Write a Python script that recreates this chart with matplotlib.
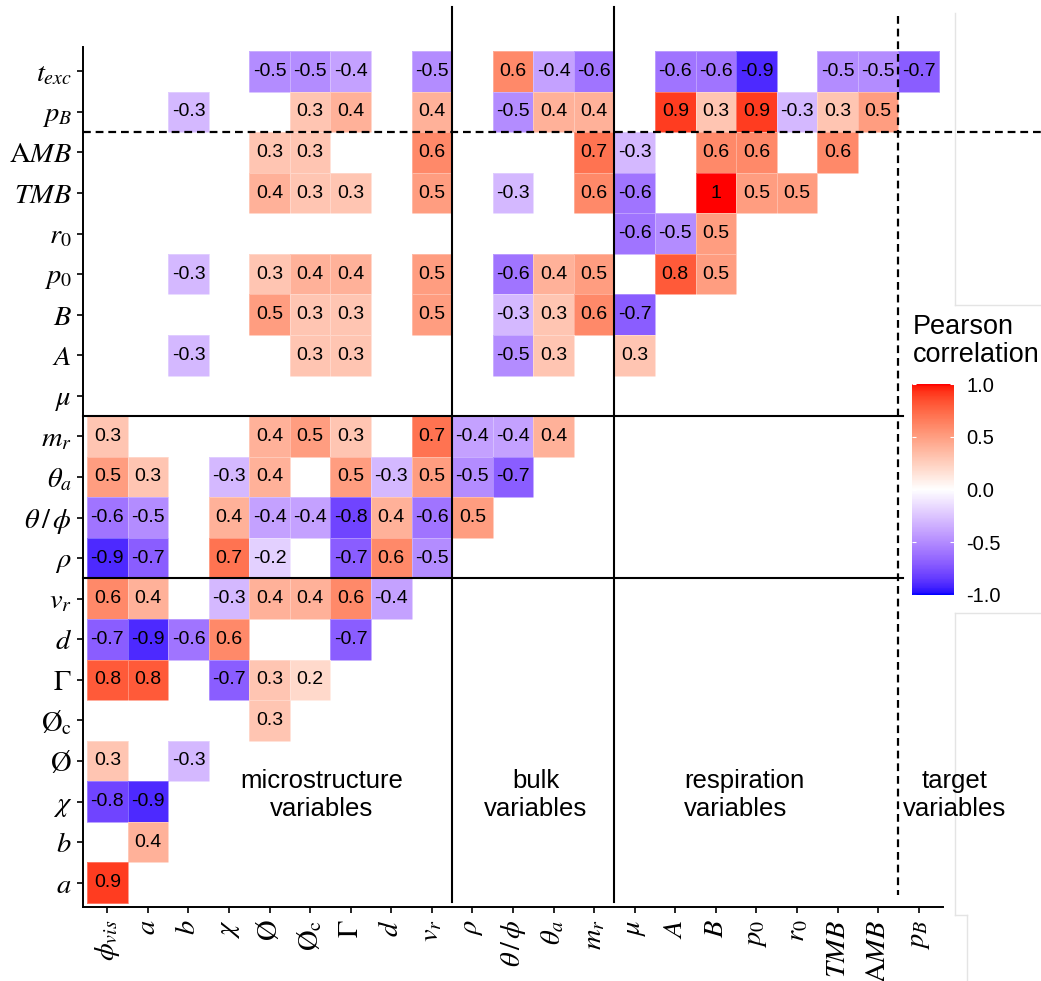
import numpy as np
import matplotlib
matplotlib.use("Agg")
import matplotlib.pyplot as plt
from matplotlib.colors import ListedColormap, Normalize
from matplotlib.lines import Line2D
from matplotlib import transforms as mtrans
import matplotlib.colorbar as mcolorbar

plt.rcParams['mathtext.fontset'] = 'stix'
plt.rcParams['axes.unicode_minus'] = False
plt.rcParams['font.family'] = ['Liberation Sans', 'DejaVu Sans']

N = None
# ---------------- data ----------------
col_labels = [r'$\phi_{vis}$', r'$a$', r'$b$', r'$\chi$', r'$\mathrm{Ø}$', r'$\mathrm{Ø}_\mathrm{c}$',
              r'$\Gamma$', r'$d$', r'$v_r$', r'$\rho$', r'$\theta\,/\,\phi$', r'$\theta_a$', r'$m_r$',
              r'$\mu$', r'$A$', r'$B$', r'$p_0$', r'$r_0$', r'$TMB$', r'$\mathrm{A}MB$', r'$p_B$']
row_labels = [r'$t_{exc}$', r'$p_B$', r'$\mathrm{A}MB$', r'$TMB$', r'$r_0$', r'$p_0$', r'$B$', r'$A$',
              r'$\mu$', r'$m_r$', r'$\theta_a$', r'$\theta\,/\,\phi$', r'$\rho$', r'$v_r$', r'$d$',
              r'$\Gamma$', r'$\mathrm{Ø}_\mathrm{c}$', r'$\mathrm{Ø}$', r'$\chi$', r'$b$', r'$a$']

row_t_exc = [N, N, N, N, -0.5, -0.5, -0.4, N, -0.5, N, 0.6, -0.4, -0.6, N, -0.6, -0.6, -0.9, N, -0.5, -0.5, -0.7]
row_p_B = [N, N, -0.3, N, N, 0.3, 0.4, N, 0.4, N, -0.5, 0.4, 0.4, N, 0.9, 0.3, 0.9, -0.3, 0.3, 0.5, N]
row_AMB = [N, N, N, N, 0.3, 0.3, N, N, 0.6, N, N, N, 0.7, -0.3, N, 0.6, 0.6, N, 0.6, N, N]
row_TMB = [N, N, N, N, 0.4, 0.3, 0.3, N, 0.5, N, -0.3, N, 0.6, -0.6, N, 1.0, 0.5, 0.5, N, N, N]
row_r0 = [N, N, N, N, N, N, N, N, N, N, N, N, N, -0.6, -0.5, 0.5, N, N, N, N, N]
row_p0 = [N, N, -0.3, N, 0.3, 0.4, 0.4, N, 0.5, N, -0.6, 0.4, 0.5, N, 0.8, 0.5, N, N, N, N, N]
row_B = [N, N, N, N, 0.5, 0.3, 0.3, N, 0.5, N, -0.3, 0.3, 0.6, -0.7, N, N, N, N, N, N, N]
row_A = [N, N, -0.3, N, N, 0.3, 0.3, N, N, N, -0.5, 0.3, N, 0.3, N, N, N, N, N, N, N]
row_mu = [N] * 21
row_m_r = [0.3, N, N, N, 0.4, 0.5, 0.3, N, 0.7, -0.4, -0.4, 0.4, N, N, N, N, N, N, N, N, N]
row_theta_a = [0.5, 0.3, N, -0.3, 0.4, N, 0.5, -0.3, 0.5, -0.5, -0.7, N, N, N, N, N, N, N, N, N, N]
row_theta_phi = [-0.6, -0.5, N, 0.4, -0.4, -0.4, -0.8, 0.4, -0.6, 0.5, N, N, N, N, N, N, N, N, N, N, N]
row_rho = [-0.9, -0.7, N, 0.7, -0.2, N, -0.7, 0.6, -0.5, N, N, N, N, N, N, N, N, N, N, N, N]
row_v_r = [0.6, 0.4, N, -0.3, 0.4, 0.4, 0.6, -0.4, N, N, N, N, N, N, N, N, N, N, N, N, N]
row_d = [-0.7, -0.9, -0.6, 0.6, N, N, -0.7, N, N, N, N, N, N, N, N, N, N, N, N, N, N]
row_Gamma = [0.8, 0.8, N, -0.7, 0.3, 0.2, N, N, N, N, N, N, N, N, N, N, N, N, N, N, N]
row_O_c = [N, N, N, N, 0.3, N, N, N, N, N, N, N, N, N, N, N, N, N, N, N, N]
row_O = [0.3, N, -0.3, N, N, N, N, N, N, N, N, N, N, N, N, N, N, N, N, N, N]
row_chi = [-0.8, -0.9, N, N, N, N, N, N, N, N, N, N, N, N, N, N, N, N, N, N, N]
row_b = [N, 0.4, N, N, N, N, N, N, N, N, N, N, N, N, N, N, N, N, N, N, N]
row_a = [0.9, N, N, N, N, N, N, N, N, N, N, N, N, N, N, N, N, N, N, N, N]

rows = [row_t_exc, row_p_B, row_AMB, row_TMB, row_r0, row_p0, row_B, row_A, row_mu,
        row_m_r, row_theta_a, row_theta_phi, row_rho, row_v_r, row_d, row_Gamma,
        row_O_c, row_O, row_chi, row_b, row_a]

group_labels = ["microstructure\nvariables", "bulk\nvariables", "respiration\nvariables", "target\nvariables"]

# ---------------- colormap (Lab interpolation like ggplot gradient2) ----------------
def _lin(c):
    c = np.asarray(c, float)
    return np.where(c <= 0.04045, c / 12.92, ((c + 0.055) / 1.055) ** 2.4)

def _gam(c):
    c = np.clip(c, 0, None)
    return np.where(c <= 0.0031308, 12.92 * c, 1.055 * np.power(c, 1 / 2.4) - 0.055)

_M = np.array([[0.4124, 0.3576, 0.1805], [0.2126, 0.7152, 0.0722], [0.0193, 0.1192, 0.9505]])
_Mi = np.linalg.inv(_M)
_WN = np.array([0.95047, 1.0, 1.08883])

def rgb2lab(rgb):
    xyz = _M @ _lin(rgb) / _WN
    f = np.where(xyz > 0.008856, np.cbrt(xyz), 7.787 * xyz + 16 / 116)
    return np.array([116 * f[1] - 16, 500 * (f[0] - f[1]), 200 * (f[1] - f[2])])

def lab2rgb(lab):
    fy_ = (lab[0] + 16) / 116
    f = np.array([fy_ + lab[1] / 500, fy_, fy_ - lab[2] / 200])
    xyz = np.where(f ** 3 > 0.008856, f ** 3, (f - 16 / 116) / 7.787) * _WN
    return np.clip(_gam(_Mi @ xyz), 0, 1)

lab_b, lab_w, lab_r = rgb2lab([0, 0, 1]), rgb2lab([1, 1, 1]), rgb2lab([1, 0, 0])
cols = []
for t in np.linspace(-1, 1, 256):
    if t < 0:
        cols.append(lab2rgb(lab_w + (lab_b - lab_w) * (-t)))
    else:
        cols.append(lab2rgb(lab_w + (lab_r - lab_w) * t))
cmap = ListedColormap(cols)
norm = Normalize(-1, 1)

# ---------------- figure ----------------
W, H = 1041, 981
fig = plt.figure(figsize=(W / 100, H / 100), dpi=100)
ax = fig.add_axes([83 / W, 1 - 907 / H, 860 / W, 860 / H])

nr, nc = len(row_labels), len(col_labels)
Z = np.array([[np.nan if v is None else v for v in r] for r in rows], float)
Zm = np.ma.masked_invalid(Z)
ax.pcolormesh(np.arange(nc + 1) - 0.5, np.arange(nr + 1) - 0.5, Zm, cmap=cmap, norm=norm,
              edgecolors=(1, 1, 1, 0.3), linewidth=0.6)

for i in range(nr):
    for j in range(nc):
        v = Z[i, j]
        if np.isnan(v):
            continue
        s = "1" if v == 1 else f"{v:.1f}"
        ax.text(j, i, s, ha='center', va='center', fontsize=14, color='black',
                family='Liberation Sans')

ax.set_xlim(-0.6, nc - 0.4)
ax.set_ylim(nr - 0.4, -0.6)
ax.set_xticks(range(nc))
ax.set_xticklabels(col_labels, rotation=90, fontsize=20.5)
ax.set_yticks(range(nr))
ax.set_yticklabels(row_labels, fontsize=20.5)
for sp in ['top', 'right']:
    ax.spines[sp].set_visible(False)
for sp in ['left', 'bottom']:
    ax.spines[sp].set_linewidth(1.4)
ax.tick_params(length=4, width=1.2, colors='black')
ax.tick_params(axis='y', pad=4)
ax.tick_params(axis='x', pad=5)

# ---------------- separator lines ----------------
tv = mtrans.blended_transform_factory(ax.transData, fig.transFigure)
th = mtrans.blended_transform_factory(fig.transFigure, ax.transData)
def fy(p): return 1 - p / H
def fx(p): return p / W

for xb in [8.5, 12.5]:
    fig.add_artist(Line2D([xb, xb], [fy(7), fy(902)], transform=tv, color='black', lw=1.5))
fig.add_artist(Line2D([19.5, 19.5], [fy(16), fy(895)], transform=tv, color='black', lw=1.6,
                      linestyle=(0, (3.5, 2.2))))
for yb in [8.5, 12.5]:
    fig.add_artist(Line2D([fx(83), fx(903)], [yb, yb], transform=th, color='black', lw=1.5))
fig.add_artist(Line2D([fx(83), fx(1041)], [1.5, 1.5], transform=th, color='black', lw=1.6,
                      linestyle=(0, (3.5, 2.2))))

# faint image-border artefacts on the right
g = '#e4e4e4'
for xs, ys in [([955, 955], [13, 305]), ([955, 1041], [305, 305]), ([955, 1041], [613, 613]),
               ([955, 955], [613, 915]), ([955, 967], [915, 915]), ([967, 967], [915, 981])]:
    fig.add_artist(Line2D([fx(x) for x in xs], [fy(y) for y in ys], transform=fig.transFigure,
                          color=g, lw=1.0))

# ---------------- group annotations ----------------
kw = dict(va='center', fontsize=18.5, linespacing=1.22)
fig.text(fx(322), fy(795), group_labels[0], ha='center', multialignment='center', **kw)
fig.text(fx(536), fy(795), group_labels[1], ha='center', multialignment='center', **kw)
fig.text(fx(684), fy(795), group_labels[2], ha='left', multialignment='left', **kw)
fig.text(fx(955), fy(795), group_labels[3], ha='center', multialignment='center', **kw)

# ---------------- colorbar ----------------
cax = fig.add_axes([912 / W, 1 - 595 / H, 42 / W, 211 / H])
cb = mcolorbar.ColorbarBase(cax, cmap=cmap, norm=norm, ticks=[-1, -0.5, 0, 0.5, 1])
cb.outline.set_visible(False)
cb.ax.set_yticklabels(['-1.0', '-0.5', '0.0', '0.5', '1.0'])
cb.ax.tick_params(direction='in', colors='white', length=3, width=0.8, left=True, right=True,
                  labelsize=14.5, labelcolor='black', pad=9)
fig.text(fx(913), fy(314), "Pearson\ncorrelation", ha='left', va='top', fontsize=19.5,
         linespacing=1.12)

fig.savefig("out.png", dpi=100)
